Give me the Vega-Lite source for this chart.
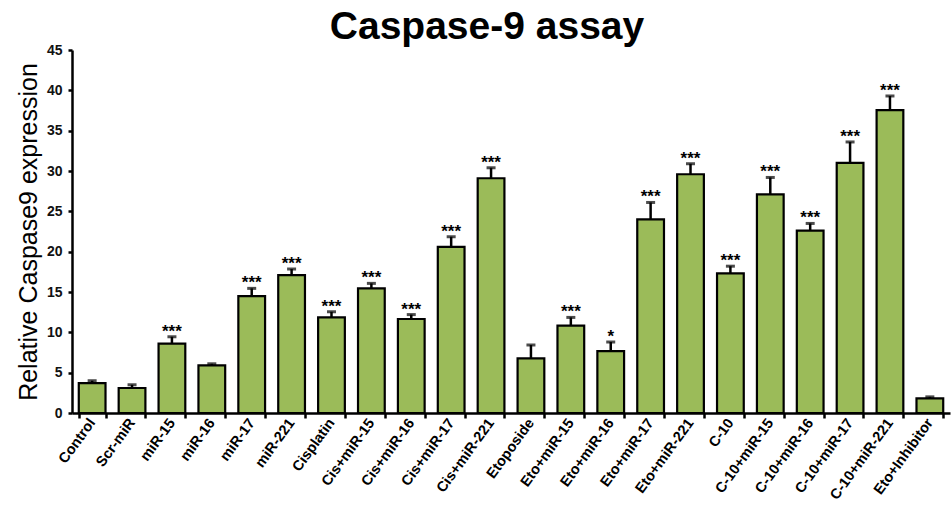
{
  "$schema": "https://vega.github.io/schema/vega-lite/v6.json",
  "autosize": "none",
  "width": 878,
  "height": 363,
  "padding": {"left": 72, "top": 50, "right": 1, "bottom": 93},
  "background": "white",
  "title": {
    "text": "Caspase-9 assay",
    "font": "Liberation Sans",
    "fontSize": 39,
    "fontWeight": "bold",
    "color": "black",
    "anchor": "middle",
    "dx": -24,
    "offset": -4
  },
  "data": {
    "values": [
      {"group": "Control", "value": 3.7, "upper": 4.0, "sig": ""},
      {"group": "Scr-miR", "value": 3.1, "upper": 3.5, "sig": ""},
      {"group": "miR-15", "value": 8.6, "upper": 9.45, "sig": "***"},
      {"group": "miR-16", "value": 5.9, "upper": 6.1, "sig": ""},
      {"group": "miR-17", "value": 14.5, "upper": 15.45, "sig": "***"},
      {"group": "miR-221", "value": 17.1, "upper": 17.85, "sig": "***"},
      {"group": "Cisplatin", "value": 11.85, "upper": 12.55, "sig": "***"},
      {"group": "Cis+miR-15", "value": 15.45, "upper": 16.07, "sig": "***"},
      {"group": "Cis+miR-16", "value": 11.65, "upper": 12.2, "sig": "***"},
      {"group": "Cis+miR-17", "value": 20.6, "upper": 21.85, "sig": "***"},
      {"group": "Cis+miR-221", "value": 29.1, "upper": 30.4, "sig": "***"},
      {"group": "Etoposide", "value": 6.78, "upper": 8.43, "sig": ""},
      {"group": "Eto+miR-15", "value": 10.82, "upper": 11.85, "sig": "***"},
      {"group": "Eto+miR-16", "value": 7.68, "upper": 8.8, "sig": "*"},
      {"group": "Eto+miR-17", "value": 24.0, "upper": 26.1, "sig": "***"},
      {"group": "Eto+miR-221", "value": 29.6, "upper": 30.9, "sig": "***"},
      {"group": "C-10", "value": 17.3, "upper": 18.2, "sig": "***"},
      {"group": "C-10+miR-15", "value": 27.1, "upper": 29.2, "sig": "***"},
      {"group": "C-10+miR-16", "value": 22.6, "upper": 23.5, "sig": "***"},
      {"group": "C-10+miR-17", "value": 31.0, "upper": 33.6, "sig": "***"},
      {"group": "C-10+miR-221", "value": 37.55, "upper": 39.3, "sig": "***"},
      {"group": "Eto+Inhibitor", "value": 1.82, "upper": 2.0, "sig": ""}
    ]
  },
  "layer": [
    {
      "mark": {"type": "bar", "fill": "#9BBB59", "stroke": "black", "strokeWidth": 2.2},
      "encoding": {
        "x": {
          "field": "group",
          "type": "nominal",
          "sort": null,
          "scale": {"paddingInner": 0.33, "paddingOuter": 0.17},
          "axis": {
            "title": null,
            "tickBand": "extent",
            "labelAngle": -54,
            "labelAlign": "right",
            "labelBaseline": "middle",
            "labelFont": "Liberation Sans",
            "labelFontSize": 14.5,
            "labelFontWeight": "bold",
            "labelColor": "black",
            "labelPadding": 2,
            "labelOverlap": false,
            "domainColor": "black",
            "domainWidth": 2.5,
            "tickColor": "black",
            "tickWidth": 2.5,
            "tickSize": 5,
            "grid": false
          }
        },
        "y": {
          "field": "value",
          "type": "quantitative",
          "scale": {"domain": [0, 45]},
          "axis": {
            "title": "Relative Caspase9 expression",
            "titleFont": "Liberation Sans",
            "titleFontSize": 25,
            "titleFontWeight": "normal",
            "titleColor": "black",
            "titlePadding": 5,
            "values": [0, 5, 10, 15, 20, 25, 30, 35, 40, 45],
            "labelFont": "Liberation Sans",
            "labelFontSize": 14,
            "labelFontWeight": "bold",
            "labelColor": "#111111",
            "labelPadding": 6,
            "domainColor": "black",
            "domainWidth": 2.5,
            "tickColor": "black",
            "tickWidth": 2.5,
            "tickSize": 4,
            "grid": false
          }
        }
      }
    },
    {
      "mark": {"type": "rule", "color": "black", "strokeWidth": 2.5},
      "encoding": {
        "x": {"field": "group", "type": "nominal", "sort": null},
        "y": {"field": "value", "type": "quantitative"},
        "y2": {"field": "upper"}
      }
    },
    {
      "mark": {"type": "tick", "color": "black", "thickness": 3, "size": 9},
      "encoding": {
        "x": {"field": "group", "type": "nominal", "sort": null},
        "y": {"field": "upper", "type": "quantitative"}
      }
    },
    {
      "mark": {"type": "text", "font": "Liberation Sans", "fontSize": 17, "fontWeight": "bold", "color": "black", "baseline": "alphabetic", "dy": 0},
      "encoding": {
        "x": {"field": "group", "type": "nominal", "sort": null},
        "y": {"field": "upper", "type": "quantitative"},
        "text": {"field": "sig"}
      }
    }
  ],
  "config": {"view": {"stroke": null}}
}
